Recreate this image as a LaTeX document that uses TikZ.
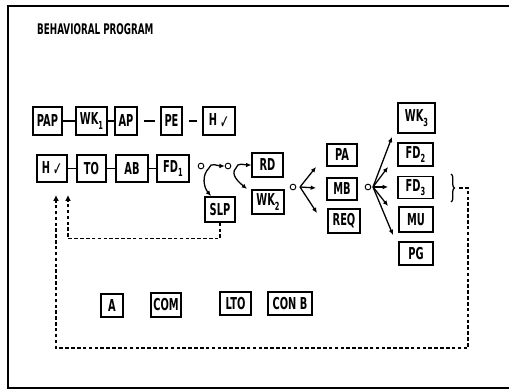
\documentclass[tikz,border=0pt]{standalone}
\usepackage{fontspec}
\setmainfont{DejaVu Sans}[FakeStretch=0.6]
\usetikzlibrary{calc,arrows.meta,decorations.pathreplacing}
\newcommand{\lowidx}[1]{\raisebox{-0.5ex}{\fontsize{9.5}{9.5}\selectfont #1}}
\newcommand{\hchk}{H\,\raisebox{-0.3ex}{\fontsize{16}{16}\selectfont ✓}}

\begin{document}
\begin{tikzpicture}[x=0.03cm,y=0.03cm,font=\bfseries\fontsize{14}{16}\selectfont,
  blk/.style={draw,line width=1.1pt,inner sep=0.5pt,minimum height=0.75cm},
  bw/.style={minimum width=#1*0.03cm},
  bh/.style={minimum height=#1*0.03cm},
  link/.style={line width=1.4pt},
  fork/.style={line width=1.1pt,-{Latex[length=4.5pt,width=4pt]}},
  back/.style={line width=1.1pt,dash pattern=on 3pt off 2pt},
  sw/.style={draw,circle,line width=0.8pt,inner sep=0pt,minimum size=0.17cm}]
  \useasboundingbox (0,0) rectangle (509,391);
  % frame, open on the right
  \draw[line width=1.2pt] (509,385) -- (8,385) -- (8,3) -- (509,3);
  \node[anchor=west,inner sep=0pt,font=\bfseries\fontsize{12.5}{14}\selectfont] (title) at (37,362) {BEHAVIORAL PROGRAM};

  % first chain
  \node[blk,bw=29,bh=28] (pap) at (47.5,270) {PAP};
  \node[blk,bw=31,bh=28] (wka) at (91.5,270) {WK\lowidx{1}};
  \node[blk,bw=22,bh=28] (ap)  at (126,270) {AP};
  \node[blk,bw=21,bh=28] (pe)  at (171.5,270) {PE};
  \node[blk,bw=32,bh=28] (hca) at (219,270) {\hchk};
  \draw[link] (pap) -- (wka);
  \draw[link] (wka) -- (ap);
  \draw[link,shorten <=5pt,shorten >=5pt] (ap) -- (pe);
  \draw[link,shorten <=5pt,shorten >=5pt] (pe) -- (hca);

  % second chain
  \node[blk,bw=30,bh=27] (hcb) at (52,222.5) {\hchk};
  \node[blk,bw=29,bh=27] (to)  at (91.5,222.5) {TO};
  \node[blk,bw=32,bh=27] (ab)  at (132,222.5) {AB};
  \node[blk,bw=32,bh=27] (fda) at (173,222.5) {FD\lowidx{1}};
  \draw[link] (hcb) -- (to);
  \draw[link] (to) -- (ab);
  \draw[link] (ab) -- (fda);

  \node[sw] (c1) at (201,225) {};
  \node[sw] (c2) at (228,225) {};
  \node[blk,bw=30,bh=25] (slp) at (220,181.5) {SLP};
  \node[blk,bw=31,bh=24] (rd)  at (267.5,226) {RD};
  \node[blk,bw=32,bh=24] (wkb) at (268,189) {WK\lowidx{2}};
  \coordinate (f1) at (209,223);
  \coordinate (s1) at (211,195);
  \draw[fork] (f1) to[out=80,in=180] (c2.west);
  \draw[fork] (f1) to[out=-135,in=130] (s1);
  \coordinate (f2) at (236,223);
  \coordinate (s2) at (247,202);
  \draw[fork] (f2) to[out=80,in=180] (rd.west);
  \draw[fork] (f2) to[out=-135,in=140] (s2);

  % third stage
  \node[sw] (c3) at (293,204) {};
  \node[blk,bw=30,bh=22] (pa)  at (342,236) {PA};
  \node[blk,bw=30,bh=22] (mb)  at (342,202) {MB};
  \node[blk,bw=32,bh=24] (req) at (344,170) {REQ};
  \coordinate (f3) at (300,204);
  \coordinate (t1) at (316,224);
  \coordinate (t2) at (316,203);
  \coordinate (t3) at (317,178);
  \foreach \t in {t1,t2,t3}
    \draw[fork] (f3) -- (\t);

  % fourth stage
  \node[sw] (c4) at (368,204) {};
  \node[blk,bw=37,bh=30] (wkc) at (416.5,273) {WK\lowidx{3}};
  \node[blk,bw=35,bh=23] (fdb) at (415.5,236.5) {FD\lowidx{2}};
  \node[blk,bw=35,bh=22] (fdc) at (415.5,203.5) {FD\lowidx{3}};
  \node[blk,bw=34,bh=25] (mu)  at (416,171.5) {MU};
  \node[blk,bw=34,bh=23] (pg)  at (416,137.5) {PG};
  \coordinate (f4) at (373,204);
  \coordinate (u1) at (392,254);
  \coordinate (u2) at (388,224);
  \coordinate (u3) at (388,204);
  \coordinate (u4) at (388,185);
  \coordinate (u5) at (393,156);
  \foreach \u in {u1,u2,u3,u4,u5}
    \draw[fork] (f4) -- (\u);
  \draw[decorate,decoration={brace,amplitude=3pt},line width=1.1pt] (451,217) -- (451,189);

  % loose blocks
  \node[blk,bw=22,bh=23] (a)    at (112,85.5) {A};
  \node[blk,bw=30,bh=24] (com)  at (166,86) {COM};
  \node[blk,bw=31,bh=23] (lto)  at (235.5,87.5) {LTO};
  \node[blk,bw=44,bh=23] (conb) at (290,87.5) {CON B};

  % feedback to H
  \coordinate (brtip) at (459,203);
  \coordinate (ha) at (56,196);
  \coordinate (hb) at (68,196);
  \draw[back,-{Latex[length=5pt,width=5pt]}] (brtip) -| (468,43) -| (ha);
  \draw[back,-{Latex[length=5pt,width=5pt]}] (slp.south) -- ++(0,-16) -| (hb);
\end{tikzpicture}
\end{document}
